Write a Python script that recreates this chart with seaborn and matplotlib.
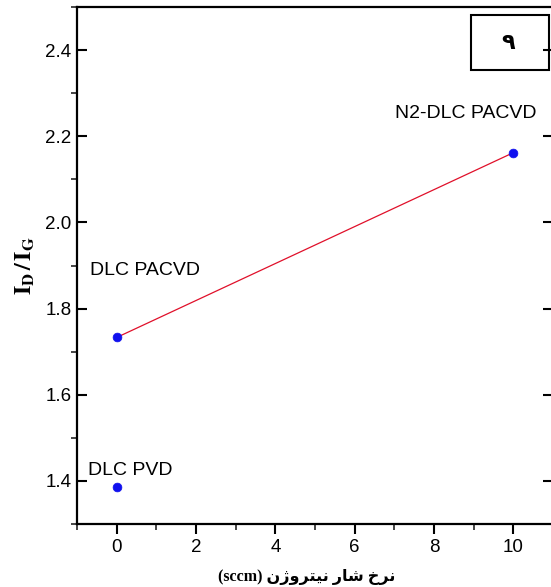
import numpy as np
import pandas as pd
import matplotlib
matplotlib.use("Agg")
import matplotlib.pyplot as plt
import seaborn as sns
from matplotlib.patches import Rectangle
from matplotlib.ticker import MultipleLocator

# values
samples = ["DLC PVD", "DLC PACVD", "N2-DLC PACVD"]
n2_flow = [0, 0, 10]          # sccm
id_ig = [1.385, 1.733, 2.162]
# the red line links the two PACVD samples
line_samples = ["DLC PACVD", "N2-DLC PACVD"]
xticks = [0, 2, 4, 6, 8, 10]
yticks = [1.4, 1.6, 1.8, 2.0, 2.2, 2.4]
panel_label = "\u06f9"

# label offsets (data units) next to each point
label_dx = [-0.72, -0.68, 10.58]
label_dy = [1.425, 1.888, 2.254]
label_ha = ["left", "left", "right"]

df = pd.DataFrame({"sample": samples, "flow": n2_flow, "ratio": id_ig})
df_line = df[df["sample"].isin(line_samples)]

sns.set_style("ticks")
sans = ['Liberation Sans', 'DejaVu Sans']
plt.rcParams['font.family'] = sans
plt.rcParams['mathtext.fontset'] = 'stix'
plt.rcParams['text.color'] = 'black'
plt.rcParams['axes.labelcolor'] = 'black'

fig = plt.figure(figsize=(5.51, 5.87), dpi=100)
ax = fig.add_axes([0.1397, 0.1073, 0.864, 0.8807])

sns.lineplot(data=df_line, x="flow", y="ratio", color="#e0102a", lw=0.9, ax=ax)
sns.scatterplot(data=df, x="flow", y="ratio", color="#1010ee", s=40,
                edgecolor="#1010ee", zorder=3, ax=ax)

for i in range(len(samples)):
    ax.text(label_dx[i], label_dy[i], samples[i], ha=label_ha[i], va="center",
            fontsize=14, color="black", family=sans)

ax.set_xlim(-1, 11)
ax.set_ylim(1.3, 2.5)
ax.set_xticks(xticks)
ax.set_yticks(yticks)
ax.xaxis.set_minor_locator(MultipleLocator(1))
ax.yaxis.set_minor_locator(MultipleLocator(0.1))
ax.set_xticklabels([str(t) for t in xticks])
ax.set_yticklabels([f"{t:.1f}" for t in yticks])

for s in ax.spines.values():
    s.set_linewidth(1.6)
    s.set_color("black")
ax.spines["right"].set_visible(False)
ax.tick_params(axis="both", which="major", direction="out", length=7, width=1.5,
               labelsize=13.5, pad=4, colors="black")
ax.tick_params(axis="both", which="minor", direction="out", length=4, width=1.2)
ax.tick_params(axis="y", which="both", right=True)
ax.tick_params(axis="y", which="major", right=True, direction="in", length=7)

# Persian x label, written in display order with presentation forms
fa_label = ("(sccm) "
            "\ufee5\ufb8a\ufeed\ufeae\ufe98\ufef4\ufee7 "
            "\ufead\ufe8e\ufeb7 "
            "\ufea5\ufeae\ufee7")
ax.set_xlabel(fa_label, fontsize=11.5, fontweight="bold",
              family=['Liberation Serif', 'DejaVu Sans'], va="center")
ax.xaxis.set_label_coords(0.483, -0.1025)
ax.set_ylabel(r"$\mathbf{I}_{\mathbf{D}}\mathbf{\,/\,I}_{\mathbf{G}}$", fontsize=17, labelpad=6)

# panel number box
ax.add_patch(Rectangle((0.828, 0.878), 0.164, 0.106, transform=ax.transAxes,
                       fill=False, lw=1.5, edgecolor="black", clip_on=False))
ax.text(0.905, 0.931, panel_label, transform=ax.transAxes, ha="center", va="center",
        fontsize=16, fontweight="bold", family=['DejaVu Sans'])

fig.savefig("out.png", dpi=100)
